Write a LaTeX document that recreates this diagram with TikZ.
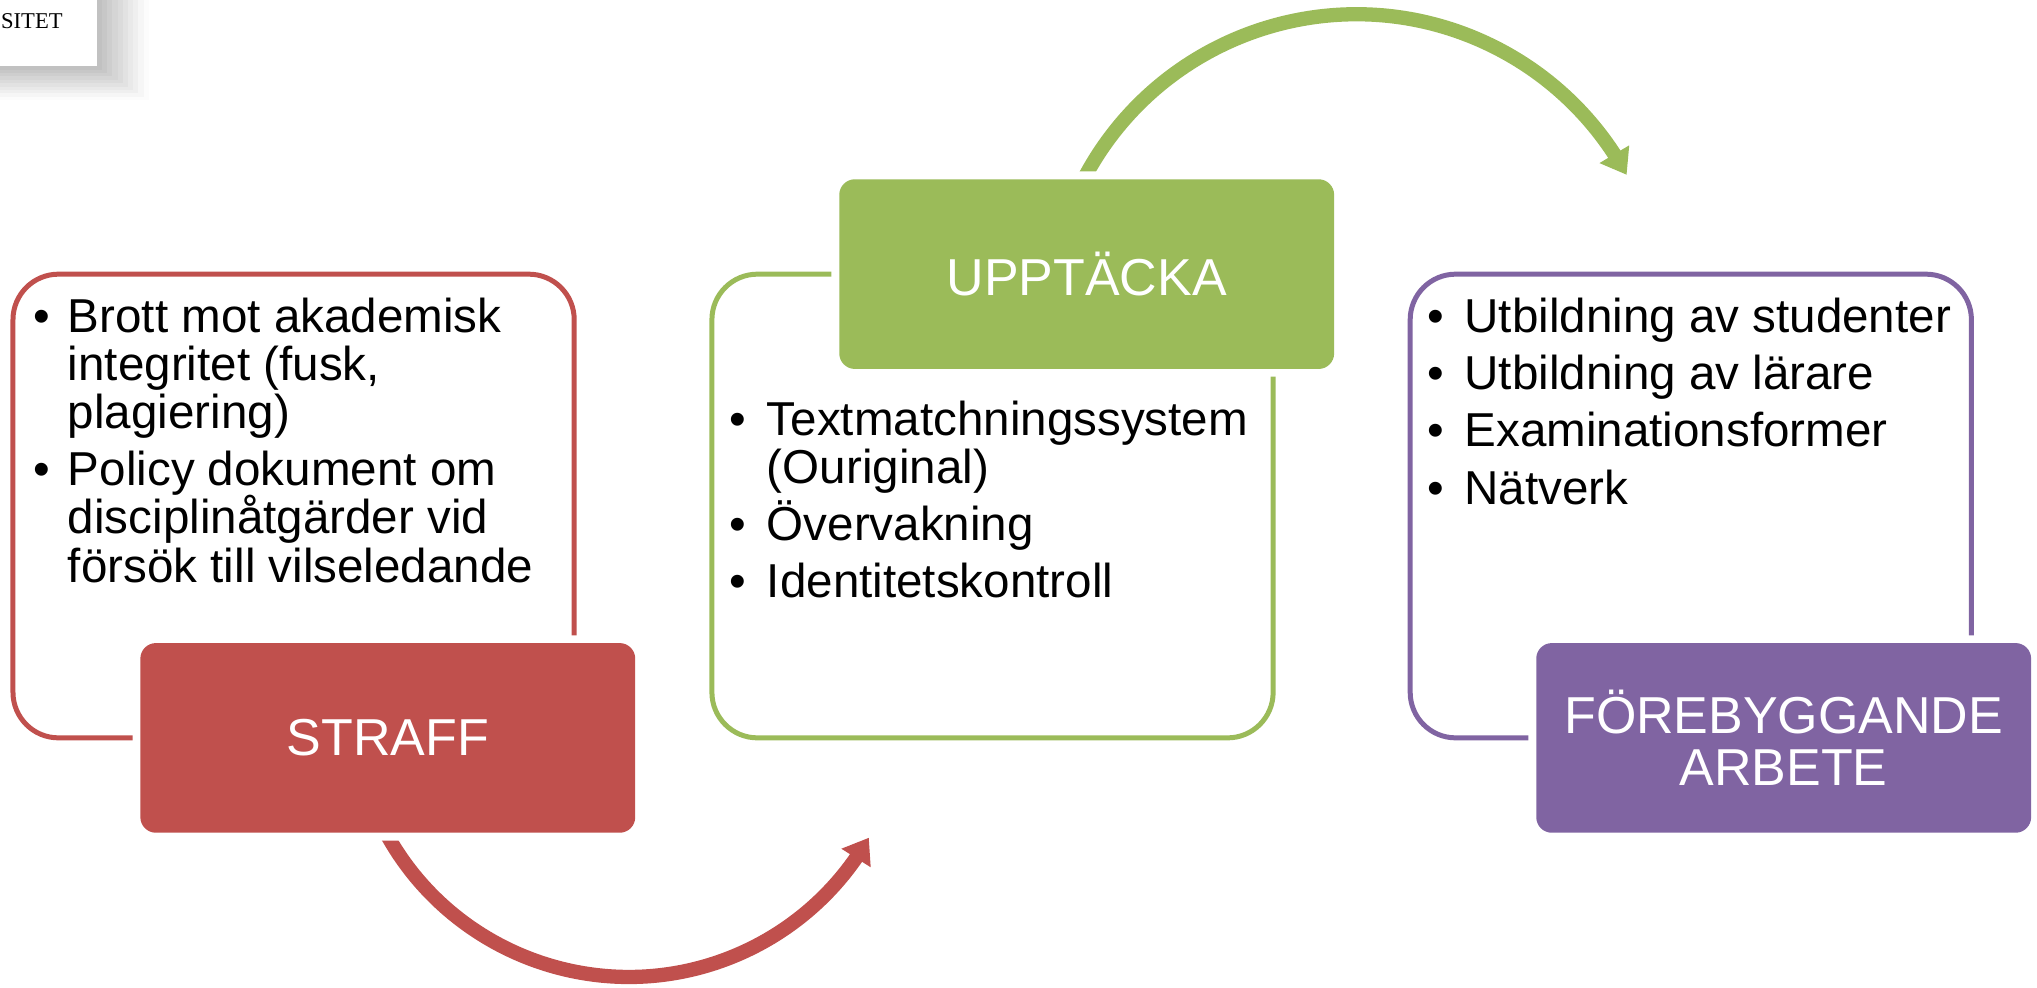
\documentclass[tikz,border=0pt]{standalone}
\usepackage{fontspec}
\setmainfont{Liberation Sans}
\newfontfamily\serifcap{Liberation Serif}
\usetikzlibrary{arrows.meta,bending}
\definecolor{cred}{HTML}{C0504D}
\definecolor{cgreen}{HTML}{9BBB59}
\definecolor{cpurple}{HTML}{8064A2}
\begin{document}
\begin{tikzpicture}[x=0.65pt,y=-0.65pt,
  frame/.style={draw=#1, line width=2.5pt, rounded corners=22.75pt, minimum width=280.8pt, minimum height=232pt, inner sep=0pt, outer sep=0pt},
  labelbox/.style={fill=#1, rounded corners=7.8pt, minimum width=247.6pt, minimum height=94.9pt, inner sep=0pt, outer sep=0pt, text=white, font=\fontsize{26}{26}\selectfont, align=center, preaction={draw=white, line width=7.8pt}},
  bodyline/.style={anchor=base west, inner sep=0pt, font=\fontsize{23.8}{24}\selectfont},
  bulletmark/.style={anchor=base, inner sep=0pt, font=\fontsize{23.8}{24}\selectfont},
  arrowline/.style={draw=#1, line width=7.15pt, -{Triangle[length=12pt,width=16.5pt]}}
]
\useasboundingbox (0,0) rectangle (1568,760);
\clip (0,0) rectangle (1568,760);
% corner box with shadow
\foreach \k [evaluate=\k as \g using {27-2.6*\k}] in {10,9,...,1}
  \fill[black!\g] (-10,-10) rectangle ({74.5+4*\k},{51+2.6*\k});
\fill[white] (-10,-10) rectangle (74.5,51);
\node[anchor=base east, inner sep=0pt, font=\serifcap\fontsize{11.3}{12}\selectfont] (sitet) at (48.5,22) {SITET};
% frames
\node[frame=cred] (redframe) at (226,389.5) {};
\node[frame=cgreen] (greenframe) at (764,389.5) {};
\node[frame=cpurple] (purpleframe) at (1301.5,389.5) {};
% arcs
\coordinate (redstart) at (291.4,630);
\draw[arrowline=cred] (redstart) arc[start angle=154.7, end angle=29.8, radius=213];
\coordinate (greenstart) at (830.6,145);
\draw[arrowline=cgreen] (greenstart) arc[start angle=205.76, end angle=331.4, radius=237];
% label boxes
\node[labelbox=cred] (straff) at (298.5,568) {STRAFF};
\node[labelbox=cgreen] (upptacka) at (836.5,211) {UPPTÄCKA};
\node[labelbox=cpurple] (forebygg) at (1373,568) {FÖREBYGGANDE\\ARBETE};
% red texts
\node[bulletmark] (rb1) at (32,256) {•};
\node[bulletmark] (rb2) at (32,374) {•};
\node[bodyline] (r1) at (52,256) {Brott mot akademisk};
\node[bodyline] (r2) at (52,293) {integritet (fusk,};
\node[bodyline] (r3) at (52,330) {plagiering)};
\node[bodyline] (r4) at (52,374) {Policy dokument om};
\node[bodyline] (r5) at (52,411) {disciplinåtgärder vid};
\node[bodyline] (r6) at (52,448) {försök till vilseledande};
% green texts
\node[bulletmark] (gb1) at (568,335) {•};
\node[bulletmark] (gb2) at (568,416) {•};
\node[bulletmark] (gb3) at (568,460) {•};
\node[bodyline] (g1) at (590,335) {Textmatchningssystem};
\node[bodyline] (g2) at (590,372) {(Ouriginal)};
\node[bodyline] (g3) at (590,416) {Övervakning};
\node[bodyline] (g4) at (590,460) {Identitetskontroll};
% purple texts
\node[bulletmark] (pb1) at (1105,256) {•};
\node[bulletmark] (pb2) at (1105,300) {•};
\node[bulletmark] (pb3) at (1105,344) {•};
\node[bulletmark] (pb4) at (1105,388) {•};
\node[bodyline] (p1) at (1127,256) {Utbildning av studenter};
\node[bodyline] (p2) at (1127,300) {Utbildning av lärare};
\node[bodyline] (p3) at (1127,344) {Examinationsformer};
\node[bodyline] (p4) at (1127,388) {Nätverk};
\end{tikzpicture}
\end{document}
